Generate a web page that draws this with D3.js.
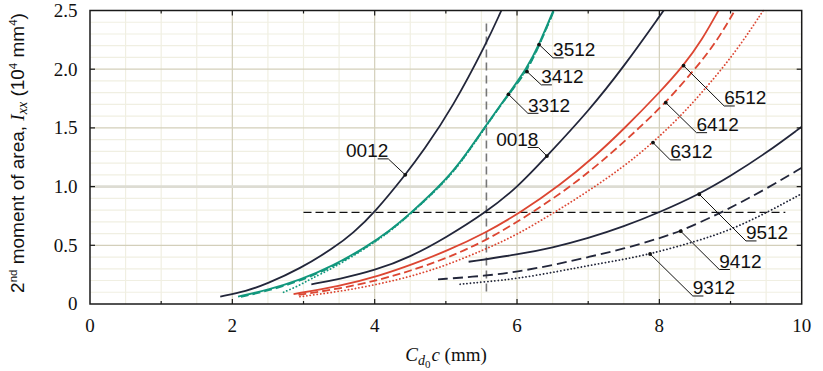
<!DOCTYPE html>
<html>
<head>
<meta charset="utf-8">
<script src="https://cdn.jsdelivr.net/npm/d3@7"></script>
<style>
  body { margin: 0; background: #fff; }
</style>
</head>
<body>
<svg id="chart" width="823" height="371"></svg>
<script>
// ---- axis ticks ----
const xTicks = [0, 2, 4, 6, 8, 10];
const xTickLabels = ["0", "2", "4", "6", "8", "10"];
const yTicks = [0, 0.5, 1, 1.5, 2, 2.5];
const yTickLabels = ["0", "0.5", "1.0", "1.5", "2.0", "2.5"];

// ---- section curves: [Cd0*c (mm), Ixx (10^4 mm^4)] ----
const naca0012 = [[1.83,0.063],[2.2,0.11],[2.48,0.17],[2.95,0.30],[3.42,0.475],[3.7,0.605],[4.0,0.78],[4.43,1.10],[4.68,1.30],[5.1,1.68],[5.57,2.22],[5.78,2.5]];
const naca0018 = [[3.11,0.168],[3.5,0.212],[4.0,0.285],[4.5,0.40],[5.0,0.565],[5.56,0.78],[6.0,0.99],[6.42,1.26],[7.0,1.64],[7.5,2.02],[8.06,2.5]];
const naca3512 = [[2.08,0.063],[2.5,0.12],[2.95,0.205],[3.4,0.32],[3.89,0.49],[4.2,0.62],[4.52,0.78],[5.01,1.06],[5.29,1.28],[5.55,1.51],[5.88,1.79],[6.14,2.01],[6.31,2.21],[6.51,2.5]];
const naca3412 = [[2.12,0.06],[2.5,0.112],[2.95,0.195],[3.4,0.312],[3.89,0.485],[4.2,0.615],[4.52,0.775],[5.01,1.055],[5.29,1.275],[5.55,1.505],[5.88,1.785],[6.14,1.98],[6.31,2.20],[6.52,2.5]];
const naca3312 = [[2.72,0.10],[2.95,0.16],[3.1,0.215],[3.4,0.30],[3.89,0.48],[4.2,0.61],[4.52,0.775],[5.01,1.05],[5.29,1.27],[5.55,1.50],[5.88,1.786],[6.14,1.99],[6.31,2.20],[6.52,2.5]];
const naca6512 = [[2.86,0.085],[3.5,0.15],[4.07,0.24],[4.54,0.34],[5.01,0.45],[5.57,0.61],[6.05,0.78],[6.6,1.01],[7.1,1.26],[7.5,1.49],[8.0,1.80],[8.34,2.03],[8.6,2.25],[8.83,2.5]];
const naca6412 = [[2.93,0.077],[3.5,0.13],[4.07,0.205],[4.54,0.29],[5.01,0.39],[5.57,0.54],[6.22,0.78],[6.8,1.02],[7.3,1.27],[7.7,1.49],[8.09,1.715],[8.5,2.0],[8.8,2.23],[9.06,2.5]];
const naca6312 = [[2.95,0.062],[3.5,0.105],[4.07,0.17],[4.54,0.24],[5.01,0.33],[5.57,0.47],[6.0,0.59],[6.5,0.77],[7.0,0.96],[7.5,1.17],[7.91,1.375],[8.3,1.6],[8.7,1.87],[9.1,2.17],[9.46,2.5]];
const naca9512 = [[5.32,0.36],[6.0,0.42],[6.5,0.48],[7.0,0.56],[7.5,0.66],[8.0,0.78],[8.56,0.935],[9.0,1.09],[9.5,1.285],[10,1.51]];
const naca9412 = [[4.89,0.21],[5.57,0.24],[6.0,0.275],[6.5,0.33],[7.0,0.40],[7.5,0.47],[8.0,0.56],[8.3,0.62],[8.8,0.76],[9.0,0.82],[9.5,0.98],[10,1.16]];
const naca9312 = [[5.2,0.168],[5.57,0.19],[6.0,0.215],[6.6,0.28],[7.03,0.33],[7.5,0.38],[7.87,0.426],[8.5,0.53],[9.0,0.63],[9.5,0.775],[10,0.94]];

// ---- reference lines ----
const refChord = 5.57;              // vertical reference, mm
const refChordSpan = [0.07, 2.39];
const refInertia = 0.78;            // horizontal reference, 10^4 mm^4
const refInertiaSpan = [3.0, 9.77];

(function () {
  // ---- styling ----
  const NAVY = "#22263a", RED = "#dc4632", TEAL = "#12977d";
  const solid = null, dashed = "8,4", dotted = "0.1,3.4";

  const curves = [
    { name: "0012", data: naca0012, color: NAVY, dash: solid },
    { name: "0018", data: naca0018, color: NAVY, dash: solid },
    { name: "3512", data: naca3512, color: TEAL, dash: solid },
    { name: "3412", data: naca3412, color: TEAL, dash: dashed },
    { name: "3312", data: naca3312, color: TEAL, dash: dotted },
    { name: "6512", data: naca6512, color: RED, dash: solid },
    { name: "6412", data: naca6412, color: RED, dash: dashed },
    { name: "6312", data: naca6312, color: RED, dash: dotted },
    { name: "9512", data: naca9512, color: NAVY, dash: solid },
    { name: "9412", data: naca9412, color: NAVY, dash: "10,5" },
    { name: "9312", data: naca9312, color: NAVY, dash: dotted }
  ];

  // callouts: point on the curve (x), elbow offset in px, label side
  const callouts = [
    { name: "0012", at: 4.43, dx: -17, dy: -16, side: "left" },
    { name: "0018", at: 6.42, dx: -8.5, dy: -8.6, side: "left" },
    { name: "3512", at: 6.31, dx: 14, dy: 13.3, side: "right" },
    { name: "3412", at: 6.14, dx: 14.3, dy: 13.3, side: "right" },
    { name: "3312", at: 5.88, dx: 19.4, dy: 19, side: "right" },
    { name: "6512", at: 8.34, dx: 40.6, dy: 40.3, side: "right" },
    { name: "6412", at: 8.09, dx: 30.7, dy: 30, side: "right" },
    { name: "6312", at: 7.91, dx: 17.3, dy: 17.3, side: "right" },
    { name: "9512", at: 8.56, dx: 46.7, dy: 46.7, side: "right" },
    { name: "9412", at: 8.30, dx: 38.6, dy: 38.3, side: "right" },
    { name: "9312", at: 7.87, dx: 42.7, dy: 42, side: "right" }
  ];

  const svg = d3.select("#chart");
  const L = 90, R = 801.7, T = 10.5, B = 304;
  const x = d3.scaleLinear().domain([0, 10]).range([L, R]);
  const y = d3.scaleLinear().domain([0, 2.5]).range([B, T]);

  const SANS = "Arial, 'Liberation Sans', Helvetica, sans-serif";
  const SERIF = "'Liberation Serif', 'Times New Roman', serif";

  // ---- grid ----
  const grid = svg.append("g");
  const minorX = d3.range(0.5, 10, 0.5).filter(v => v % 2 !== 0);
  const minorY = d3.range(1, 25).map(v => v / 10).filter((v, i) => (i + 1) % 5 !== 0);
  grid.selectAll(".mx").data(minorX).join("line")
    .attr("x1", d => x(d)).attr("x2", d => x(d)).attr("y1", T).attr("y2", B)
    .attr("stroke", "#f0efe2").attr("stroke-width", 1.2);
  grid.selectAll(".my").data(minorY).join("line")
    .attr("x1", L).attr("x2", R).attr("y1", d => y(d)).attr("y2", d => y(d))
    .attr("stroke", "#f0efe2").attr("stroke-width", 1.2);
  grid.selectAll(".Mx").data(xTicks.filter(v => v > 0 && v < 10)).join("line")
    .attr("x1", d => x(d)).attr("x2", d => x(d)).attr("y1", T).attr("y2", B)
    .attr("stroke", "#d3cfba").attr("stroke-width", 1.2);
  grid.selectAll(".My").data(yTicks.filter(v => v > 0 && v < 2.5)).join("line")
    .attr("x1", L).attr("x2", R).attr("y1", d => y(d)).attr("y2", d => y(d))
    .attr("stroke", d => d === 1 ? "#dddcd3" : "#d3cfba")
    .attr("stroke-width", d => d === 1 ? 2.6 : 1.2);

  // ---- reference lines ----
  svg.append("line")
    .attr("x1", x(refChord)).attr("x2", x(refChord))
    .attr("y1", y(refChordSpan[1])).attr("y2", y(refChordSpan[0]))
    .attr("stroke", "#777").attr("stroke-width", 1.6).attr("stroke-dasharray", "8,5");
  svg.append("line")
    .attr("x1", x(refInertiaSpan[0])).attr("x2", x(refInertiaSpan[1]))
    .attr("y1", y(refInertia)).attr("y2", y(refInertia))
    .attr("stroke", "#111").attr("stroke-width", 1.2).attr("stroke-dasharray", "8,4");

  // ---- curves (smoothing spline through the sampled points) ----
  const line = d3.line().x(d => x(d[0])).y(d => y(d[1])).curve(d3.curveBasis);
  svg.append("g").selectAll("path").data(curves).join("path")
    .attr("d", d => line(d.data))
    .attr("fill", "none")
    .attr("stroke", d => d.color)
    .attr("stroke-width", 1.8)
    .attr("stroke-linecap", d => d.dash === dotted ? "round" : "butt")
    .attr("stroke-dasharray", d => d.dash);

  // ---- frame & ticks ----
  svg.append("rect").attr("x", L).attr("y", T).attr("width", R - L).attr("height", B - T)
    .attr("fill", "none").attr("stroke", "#1a1a1a").attr("stroke-width", 1.5);
  const tickG = svg.append("g").attr("stroke", "#1a1a1a").attr("stroke-width", 1.2);
  d3.range(1, 10).forEach(v => {
    const len = v % 2 === 0 ? 5 : 3;
    tickG.append("line").attr("x1", x(v)).attr("x2", x(v)).attr("y1", B).attr("y2", B - len);
    tickG.append("line").attr("x1", x(v)).attr("x2", x(v)).attr("y1", T).attr("y2", T + len);
  });
  yTicks.filter(v => v > 0 && v < 2.5).forEach(v => {
    tickG.append("line").attr("x1", L).attr("x2", L + 5).attr("y1", y(v)).attr("y2", y(v));
    tickG.append("line").attr("x1", R).attr("x2", R - 5).attr("y1", y(v)).attr("y2", y(v));
  });

  // ---- tick labels ----
  svg.append("g").selectAll("text").data(xTicks).join("text")
    .attr("x", d => x(d)).attr("y", 331.5)
    .attr("text-anchor", "middle")
    .attr("font-family", SERIF).attr("font-size", 19).attr("fill", "#111")
    .text((d, i) => xTickLabels[i]);
  svg.append("g").selectAll("text").data(yTicks).join("text")
    .attr("x", 77.5).attr("y", d => y(d) + 6.3)
    .attr("text-anchor", "end")
    .attr("font-family", SERIF).attr("font-size", 19).attr("fill", "#111")
    .text((d, i) => yTickLabels[i]);

  // ---- axis titles ----
  const xt = svg.append("text").attr("x", 446).attr("y", 361)
    .attr("text-anchor", "middle").attr("font-family", SERIF).attr("font-size", 19).attr("fill", "#111");
  xt.append("tspan").attr("font-style", "italic").text("C");
  xt.append("tspan").attr("font-style", "italic").attr("font-size", 14).attr("dy", 4).text("d");
  xt.append("tspan").attr("font-size", 11).attr("dy", 3).text("0");
  xt.append("tspan").attr("font-style", "italic").attr("dy", -7).attr("dx", 1).text("c");
  xt.append("tspan").text(" (mm)");

  const yt = svg.append("text")
    .attr("transform", "translate(24,153) rotate(-90)")
    .attr("text-anchor", "middle").attr("font-family", SANS).attr("font-size", 19).attr("fill", "#111");
  yt.append("tspan").text("2");
  yt.append("tspan").attr("font-size", 11.5).attr("dy", -7).text("nd");
  yt.append("tspan").attr("dy", 7).text(" moment of area, ");
  yt.append("tspan").attr("font-family", SERIF).attr("font-style", "italic").text("I");
  yt.append("tspan").attr("font-family", SERIF).attr("font-style", "italic").attr("font-size", 14).attr("dy", 3).text("xx");
  yt.append("tspan").attr("dy", -3).text(" (10");
  yt.append("tspan").attr("font-size", 11.5).attr("dy", -7).text("4");
  yt.append("tspan").attr("dy", 7).text(" mm");
  yt.append("tspan").attr("font-size", 11.5).attr("dy", -7).text("4");
  yt.append("tspan").attr("dy", 7).text(")");

  // ---- callout labels ----
  function valueAt(data, xv) {
    for (let i = 1; i < data.length; i++) {
      if (xv <= data[i][0]) {
        const [x0, y0] = data[i - 1], [x1, y1] = data[i];
        return y0 + (y1 - y0) * (xv - x0) / (x1 - x0);
      }
    }
    return data[data.length - 1][1];
  }
  const CHAR_W = 10.6;
  const cg = svg.append("g");
  callouts.forEach(c => {
    const curve = curves.find(k => k.name === c.name);
    const px = x(c.at), py = y(valueAt(curve.data, c.at));
    const ex = px + c.dx, ey = py + c.dy;
    const ux = c.side === "right" ? ex + CHAR_W : ex - CHAR_W;
    cg.append("path")
      .attr("d", `M${px},${py}L${ex},${ey}L${ux},${ey}`)
      .attr("fill", "none").attr("stroke", "#111").attr("stroke-width", 1);
    cg.append("circle").attr("cx", px).attr("cy", py).attr("r", 1.9).attr("fill", "#111");
    cg.append("text")
      .attr("x", ex).attr("y", ey - 1.6)
      .attr("text-anchor", c.side === "right" ? "start" : "end")
      .attr("font-family", SANS).attr("font-size", 19).attr("fill", "#111")
      .text(c.name);
  });
})();
</script>
</body>
</html>
